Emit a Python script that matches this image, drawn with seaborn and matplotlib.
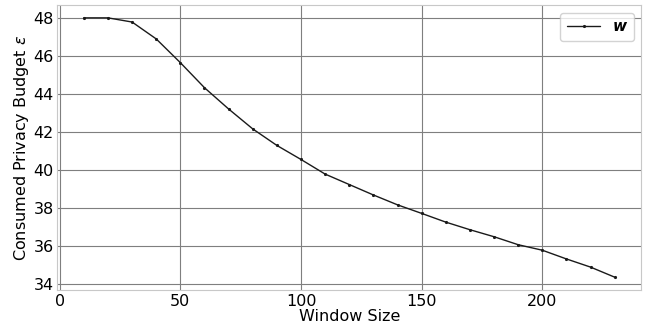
import numpy as np
import pandas as pd
import matplotlib
matplotlib.use("Agg")
import matplotlib.pyplot as plt
import seaborn as sns

# Window sizes and consumed privacy budget
window_size = [10, 20, 30, 40, 50, 60, 70, 80, 90, 100, 110, 120,
               130, 140, 150, 160, 170, 180, 190, 200, 210, 220, 230]
budget = [48.0, 48.0, 47.78, 46.89, 45.64, 44.32, 43.2, 42.15, 41.28, 40.54,
          39.77, 39.22, 38.67, 38.15, 37.7, 37.24, 36.84, 36.47, 36.05, 35.76,
          35.3, 34.87, 34.34]
series_label = "w"

df = pd.DataFrame({"Window Size": window_size, "budget": budget})

sns.set_style("whitegrid", {"grid.color": "#7f7f7f", "axes.edgecolor": "#c8c8c8",
                            "text.color": "black", "axes.labelcolor": "black",
                            "xtick.color": "black", "ytick.color": "black"})
plt.rcParams["font.family"] = ["DejaVu Sans"]

fig, ax = plt.subplots(figsize=(6.51, 3.26), dpi=100)

sns.lineplot(data=df, x="Window Size", y="budget", ax=ax, color="#1a1a1a",
             linewidth=1.0, marker=".", markersize=3, markeredgecolor="#1a1a1a",
             label=series_label)

ax.set_xlabel("Window Size", fontsize=11.5, labelpad=0)
ax.set_ylabel(r"Consumed Privacy Budget $\epsilon$", fontsize=11.5, labelpad=2)
ax.tick_params(labelsize=11.5, length=2, pad=0.5)
ax.tick_params(color="#8c8c8c")
ax.grid(True, linewidth=0.8)
ax.set_yticks([34, 36, 38, 40, 42, 44, 46, 48])

leg = ax.legend(loc="upper right", frameon=True, handlelength=2.2,
                borderpad=0.45, prop={"weight": "bold", "style": "italic", "size": 11})
leg.get_frame().set_edgecolor("#c8c8c8")

fig.subplots_adjust(left=0.088, right=0.985, top=0.985, bottom=0.11)
fig.savefig("out.png", dpi=100)
